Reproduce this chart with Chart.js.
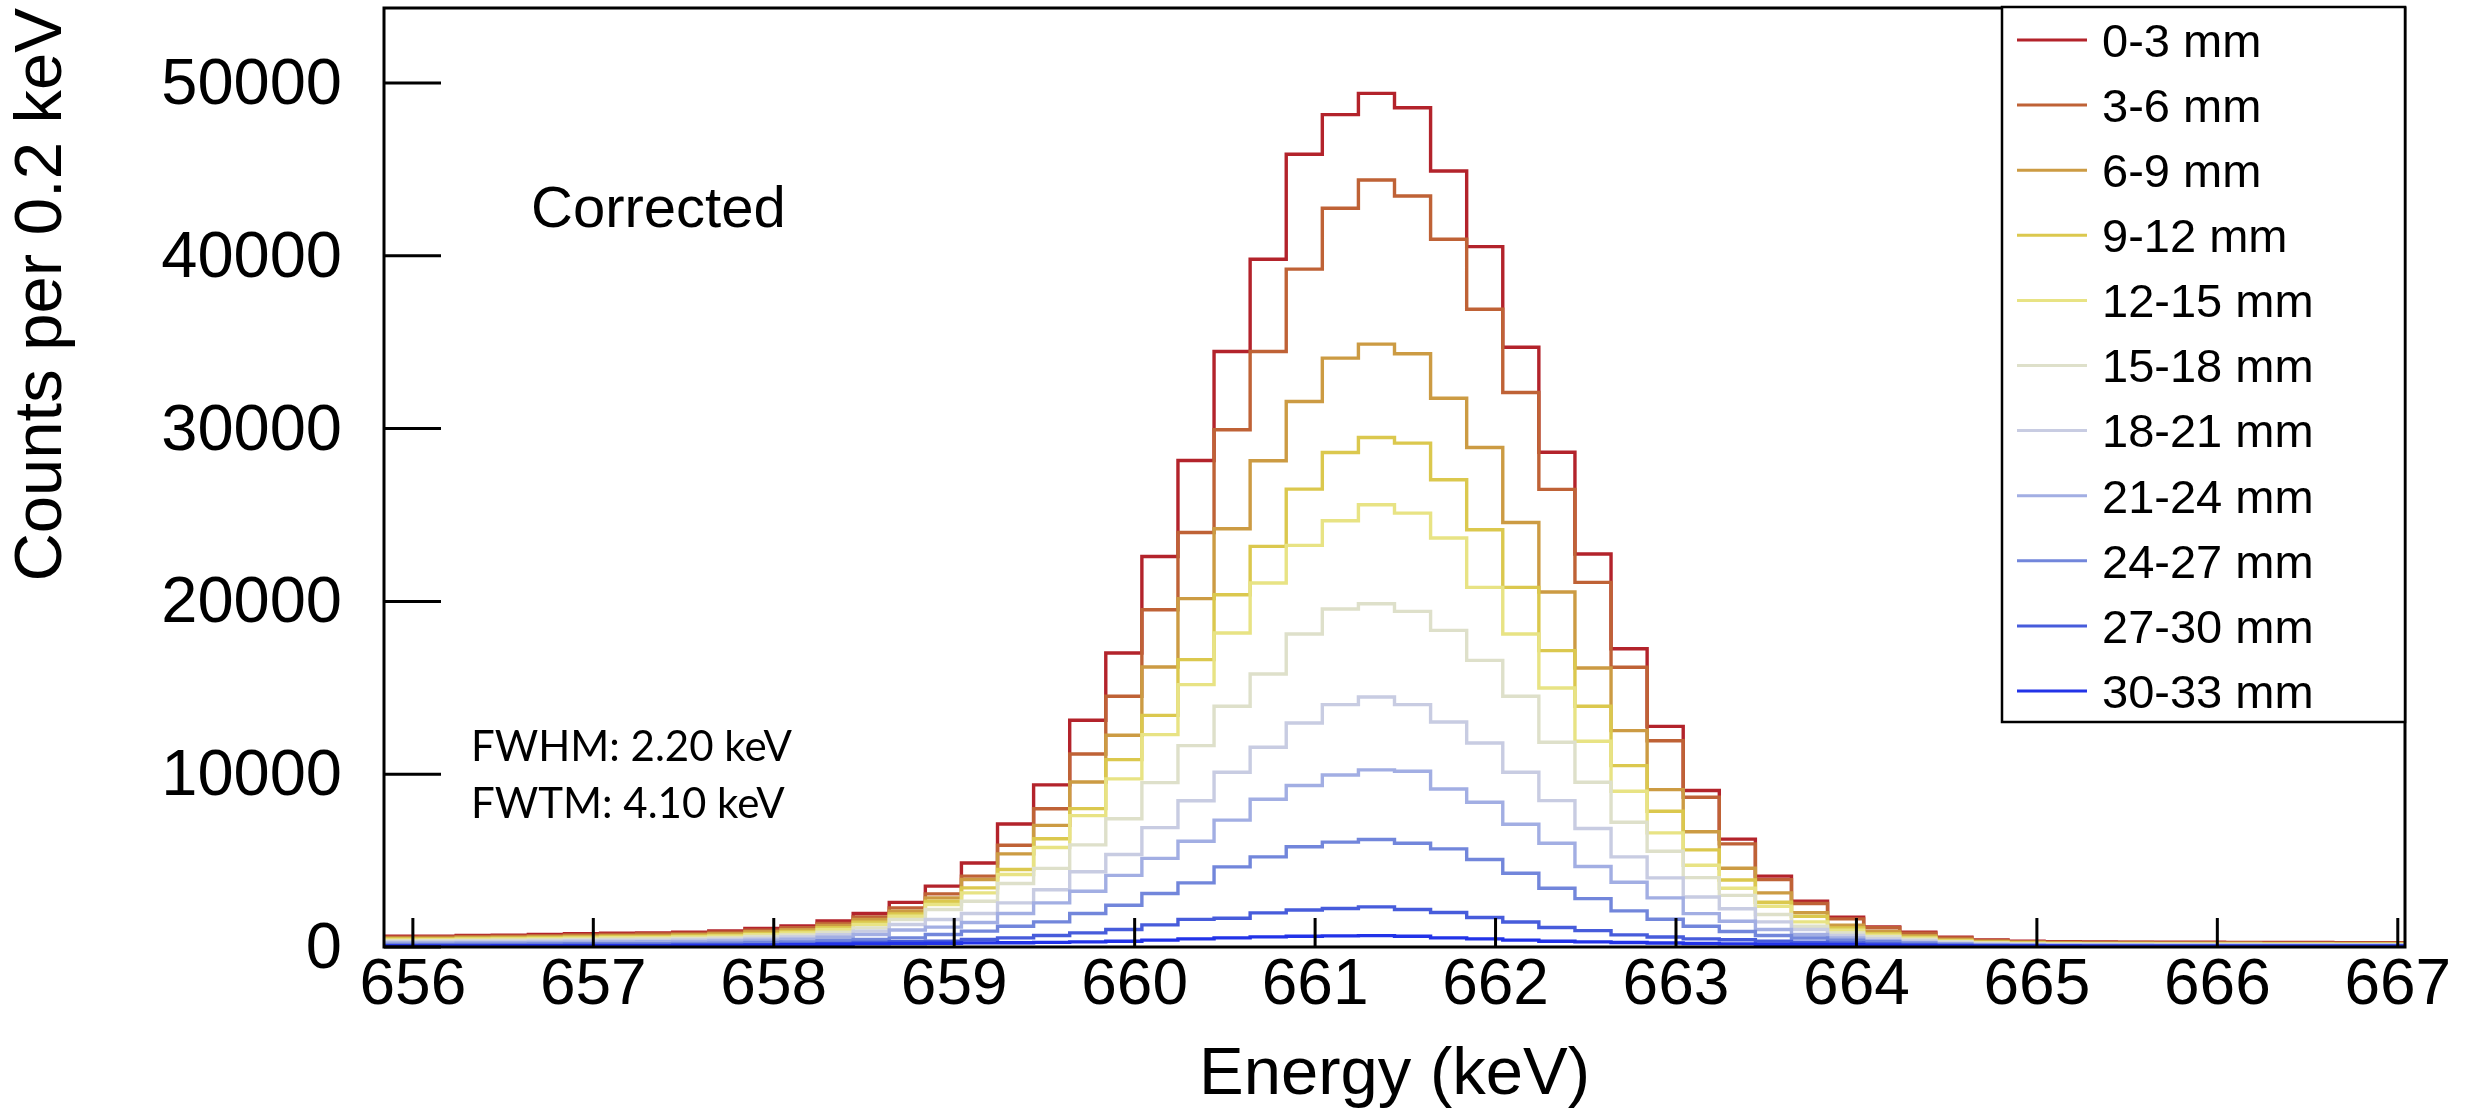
<!DOCTYPE html>
<html>
<head>
<meta charset="utf-8">
<script src="https://cdn.jsdelivr.net/npm/chart.js@4.4.0/dist/chart.umd.min.js"></script>
<style>
  html, body { margin: 0; padding: 0; background: #fff; }
  canvas { display: block; }
</style>
</head>
<body>
<canvas id="spec" width="2479" height="1118"></canvas>
<script>
// histogram binning: 56 bins of 0.2 keV starting at 655.84 keV
const binLow = 655.84;
const binWidth = 0.2;

const xTickValues = [656, 657, 658, 659, 660, 661, 662, 663, 664, 665, 666, 667];
const yTickValues = [0, 10000, 20000, 30000, 40000, 50000];

const depthLabels = ["0-3 mm", "3-6 mm", "6-9 mm", "9-12 mm", "12-15 mm", "15-18 mm",
                     "18-21 mm", "21-24 mm", "24-27 mm", "27-30 mm", "30-33 mm"];
const depthColors = ["#b3232b", "#bf6236", "#cc9b43", "#dbc84e", "#e8e384", "#dee0ca",
                     "#c8cce2", "#a2aee3", "#7286db", "#475cdb", "#2233e8"];

// counts per bin
const d0_3 = [610, 620, 630, 670, 690, 720, 770, 800, 810, 860, 935, 1070, 1225, 1510,
  1940, 2580, 3520, 4860, 7120, 9380, 13120, 17010, 22600, 28150, 34460, 39800, 45880, 48170,
  49400, 48570, 44910, 40530, 34710, 28630, 22740, 17260, 12770, 9060, 6240, 4100, 2650, 1730,
  1160, 860, 570, 415, 340, 300, 290, 285, 280, 275, 270, 265, 260, 255];
const d3_6 = [560, 570, 580, 610, 630, 660, 700, 730, 750, 790, 850, 970, 1110, 1370,
  1745, 2265, 3075, 4100, 5890, 8000, 11170, 14510, 19520, 23990, 29930, 34460, 39230, 42750,
  44390, 43460, 40960, 36910, 32090, 26480, 21100, 16190, 11940, 8670, 5970, 3900, 2520, 1630,
  1110, 800, 530, 385, 310, 275, 265, 260, 255, 250, 245, 240, 235, 230];
const d6_9 = [500, 510, 515, 550, 565, 590, 630, 655, 665, 705, 765, 880, 1005, 1240,
  1590, 2073, 2844, 3904, 5390, 7040, 9550, 12250, 16200, 20160, 24200, 28140, 31570, 34080,
  34890, 34330, 31760, 28910, 24570, 20540, 16150, 12520, 9110, 6670, 4560, 3130, 1990, 1263,
  900, 660, 440, 320, 260, 230, 220, 215, 210, 205, 200, 195, 190, 185];
const d9_12 = [450, 460, 465, 495, 510, 535, 570, 590, 600, 635, 690, 790, 905, 1120,
  1436, 1918, 2651, 3422, 4483, 6265, 8010, 10844, 13407, 16628, 20388, 23183, 26500, 28618,
  29486, 29161, 27039, 24147, 20811, 17149, 13929, 10497, 7856, 5620, 3875, 2593, 1783, 1108,
  770, 570, 380, 280, 230, 205, 195, 190, 185, 180, 178, 175, 170, 165];
const d12_15 = [410, 415, 420, 450, 460, 480, 515, 535, 545, 575, 625, 715, 820, 1010,
  1301, 1783, 2458, 3133, 4193, 5755, 7605, 9727, 12290, 15182, 18170, 21062, 23240, 24667,
  25593, 25111, 23665, 20811, 18112, 14990, 11905, 9013, 6602, 4727, 3396, 2362, 1456, 974,
  690, 510, 340, 250, 205, 185, 178, 175, 170, 166, 162, 160, 157, 154];
const d15_18 = [350, 355, 360, 380, 395, 410, 440, 455, 460, 490, 530, 610, 700, 860,
  1108, 1590, 2169, 2651, 3673, 4550, 5910, 7420, 9510, 11654, 13929, 15799, 18112, 19558,
  19867, 19422, 18324, 16589, 14508, 11847, 9533, 7220, 5543, 4015, 2990, 1880, 1205, 819,
  590, 440, 300, 220, 180, 160, 155, 150, 148, 145, 142, 140, 138, 135];
const d18_21 = [290, 292, 295, 315, 325, 340, 360, 375, 380, 405, 440, 500, 575, 710,
  916, 1301, 1590, 1938, 2555, 3310, 4357, 5350, 6910, 8463, 10112, 11558, 12965, 14025,
  14469, 14025, 13022, 11808, 10112, 8473, 6854, 5215, 4000, 2890, 2217, 1456, 1012, 665,
  460, 350, 240, 180, 150, 135, 130, 127, 125, 122, 120, 118, 116, 114];
const d21_24 = [225, 230, 235, 248, 255, 265, 285, 295, 300, 318, 345, 395, 455, 560,
  723, 980, 1150, 1420, 1938, 2555, 3229, 4145, 5128, 6121, 7345, 8550, 9350, 9950,
  10250, 10170, 9147, 8377, 7105, 6000, 4656, 3750, 2844, 1930, 1494, 1012, 723, 530,
  360, 270, 190, 140, 115, 105, 100, 98, 96, 94, 92, 90, 88, 86];
const d24_27 = [145, 148, 150, 160, 165, 172, 185, 192, 195, 206, 224, 257, 294, 360,
  434, 530, 723, 916, 1205, 1456, 1938, 2420, 3094, 3711, 4637, 5215, 5800, 6070,
  6217, 6000, 5678, 5061, 4270, 3400, 2800, 2092, 1610, 1200, 900, 665, 520, 400,
  300, 215, 150, 110, 88, 76, 70, 67, 65, 63, 62, 61, 60, 59];
const d27_30 = [80, 82, 83, 88, 90, 94, 100, 104, 105, 112, 122, 140, 160, 200,
  270, 300, 340, 434, 530, 665, 819, 1012, 1282, 1600, 1667, 1976, 2140, 2227,
  2320, 2170, 2000, 1705, 1446, 1130, 945, 700, 580, 472, 420, 340, 280, 230,
  170, 120, 85, 68, 57, 50, 48, 47, 46, 45, 44, 43, 42, 41];
const d30_33 = [60, 62, 64, 66, 68, 70, 74, 78, 82, 88, 96, 110, 130, 155,
  183, 202, 215, 241, 250, 265, 299, 337, 395, 472, 530, 588, 620, 646,
  660, 620, 530, 472, 395, 337, 299, 260, 230, 200, 180, 160, 145, 130,
  110, 90, 75, 65, 58, 54, 52, 50, 49, 48, 47, 46, 45, 44];

const seriesList = [d0_3, d3_6, d6_9, d9_12, d12_15, d15_18, d18_21, d21_24, d24_27, d27_30, d30_33];

// points at the left edge of each bin, plus one closing point at the last edge
function toSteps(counts) {
  const pts = counts.map((c, i) => ({ x: +(binLow + i * binWidth).toFixed(2), y: c }));
  pts.push({ x: +(binLow + counts.length * binWidth).toFixed(2), y: counts[counts.length - 1] });
  return pts;
}

const datasets = seriesList.map((s, i) => ({
  label: depthLabels[i],
  data: toSteps(s),
  borderColor: depthColors[i],
  borderWidth: 3.4,
  stepped: 'after',
  pointRadius: 0,
  fill: false,
  order: seriesList.length - i
}));

function noEdgePadding(s) {
  s.paddingTop = 0; s.paddingBottom = 0;
  s.paddingLeft = 0; s.paddingRight = 0;
}

const frameAndNotes = {
  id: 'frameAndNotes',
  afterDatasetsDraw(chart) {
    const ctx = chart.ctx;
    const a = chart.chartArea;
    const xs = chart.scales.x, ys = chart.scales.y;
    ctx.save();
    ctx.strokeStyle = '#000';
    ctx.lineWidth = 3;
    ctx.beginPath();
    xTickValues.forEach(v => {
      const px = xs.getPixelForValue(v);
      ctx.moveTo(px, a.bottom);
      ctx.lineTo(px, a.bottom - 29);
    });
    yTickValues.forEach(v => {
      const py = ys.getPixelForValue(v);
      ctx.moveTo(a.left, py);
      ctx.lineTo(a.left + 57, py);
    });
    ctx.stroke();
    ctx.strokeRect(a.left, a.top, a.right - a.left, a.bottom - a.top);

    ctx.fillStyle = '#000';
    ctx.textAlign = 'left';
    ctx.textBaseline = 'alphabetic';
    ctx.font = '58px "Liberation Sans"';
    ctx.fillText('Corrected', 531, 227);
    ctx.font = '42px Lato';
    ctx.fillText('FWHM: 2.20 keV', 471, 761);
    ctx.fillText('FWTM: 4.10 keV', 471, 818);

    // legend box
    const lx = 2002, ly = 7, lr = a.right, lb = 722;
    ctx.fillStyle = '#fff';
    ctx.fillRect(lx, ly, lr - lx, lb - ly);
    ctx.lineWidth = 2.5;
    ctx.strokeStyle = '#000';
    ctx.strokeRect(lx, ly, lr - lx, lb - ly);
    ctx.font = '47px "Liberation Sans"';
    chart.data.datasets.forEach((ds, k) => {
      const cy = 40 + 65.1 * k;
      ctx.strokeStyle = ds.borderColor;
      ctx.lineWidth = 3;
      ctx.beginPath();
      ctx.moveTo(2017, cy);
      ctx.lineTo(2087, cy);
      ctx.stroke();
      ctx.fillStyle = '#000';
      ctx.fillText(ds.label, 2102, cy + 16.8);
    });
    ctx.restore();
  }
};

new Chart(document.getElementById('spec'), {
  type: 'line',
  data: { datasets: datasets },
  options: {
    responsive: false,
    animation: false,
    devicePixelRatio: 1,
    layout: { padding: { left: 0, right: 74, top: 8, bottom: 0 } },
    plugins: { legend: { display: false }, tooltip: { enabled: false } },
    scales: {
      x: {
        type: 'linear',
        min: binLow,
        max: +(binLow + 56 * binWidth).toFixed(2),
        afterBuildTicks: s => { s.ticks = xTickValues.map(v => ({ value: v })); },
        afterFit: s => { s.height = 171; noEdgePadding(s); },
        grid: { display: false, drawTicks: false },
        border: { display: false },
        ticks: {
          autoSkip: false, maxRotation: 0, padding: 1, color: '#000',
          callback: v => String(v),
          font: { family: 'Liberation Sans', size: 64, lineHeight: 1.2 }
        },
        title: {
          display: true, text: 'Energy (keV)', color: '#000',
          font: { family: 'Liberation Sans', size: 67, lineHeight: 1.2 },
          padding: { top: 0, bottom: 2 }
        }
      },
      y: {
        min: 0,
        max: 54340,
        afterBuildTicks: s => { s.ticks = yTickValues.map(v => ({ value: v })); },
        afterFit: s => { s.width = 384; noEdgePadding(s); },
        grid: { display: false, drawTicks: false },
        border: { display: false },
        ticks: {
          padding: 42, labelOffset: 3, color: '#000',
          callback: v => String(v),
          font: { family: 'Liberation Sans', size: 65 }
        },
        title: {
          display: true, text: 'Counts per 0.2 keV', align: 'end', color: '#000',
          font: { family: 'Liberation Sans', size: 67, lineHeight: 1.2 },
          padding: { top: 2, bottom: 0 }
        }
      }
    }
  },
  plugins: [frameAndNotes]
});
</script>
</body>
</html>
